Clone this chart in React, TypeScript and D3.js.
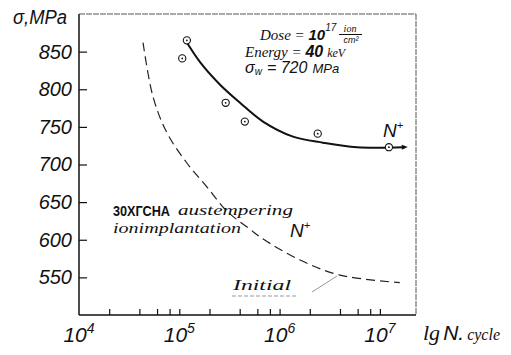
import React, { useRef, useEffect } from "react";
import * as d3 from "d3";

// fatigue points, N+ implanted
const pointCycles = [1.19e5, 1.07e5, 2.9e5, 4.5e5, 2.4e6, 1.23e7];
const pointStress = [865, 841, 782, 757, 741, 723];

// solid fit curve (N+)
const fitCycles = [1.14e5, 1.61e5, 2.55e5, 4.03e5, 6.83e5, 1.36e6, 2.71e6, 5.92e6, 1.7e7];
const fitStress = [866, 836, 806, 782, 757, 737, 729, 723, 723];

// dashed curve (initial)
const initCycles = [4.35e4, 5.47e4, 7.54e4, 1.19e5, 1.89e5, 2.99e5, 5.07e5, 6.67e5, 1.6e6, 4.0e6, 1.58e7];
const initStress = [862, 790, 742, 702, 670, 638, 614, 602, 573, 553, 543];

const yTicks = [550, 600, 650, 700, 750, 800, 850];
const decades = [4, 5, 6, 7];
const minorMult = [2, 4, 6, 8, 10];

const W = 511;
const H = 355;

const App = () => {
  const svgRef = useRef(null);

  useEffect(() => {
    const svg = d3.select(svgRef.current);
    svg.selectAll("*").remove();

    const left = 79, right = 416, top = 14, bottom = 315;
    const x = d3.scaleLog().domain([1e4, Math.pow(10, 4 + (right - left) / 100.3)]).range([left, right]);
    const y = d3.scaleLinear().domain([500, 900]).range([bottom, top]);

    const sans = "'Liberation Sans', Arial, sans-serif";
    const serif = "'Liberation Serif', 'DejaVu Serif', serif";

    // frame
    svg.append("line").attr("x1", left).attr("x2", left).attr("y1", top).attr("y2", bottom)
      .attr("stroke", "#111").attr("stroke-width", 1.5);
    svg.append("line").attr("x1", left).attr("x2", right).attr("y1", bottom).attr("y2", bottom)
      .attr("stroke", "#111").attr("stroke-width", 1.5);
    svg.append("line").attr("x1", left).attr("x2", right).attr("y1", top).attr("y2", top)
      .attr("stroke", "#555").attr("stroke-width", 1).attr("stroke-dasharray", "6 1");
    svg.append("line").attr("x1", right).attr("x2", right).attr("y1", top).attr("y2", bottom)
      .attr("stroke", "#555").attr("stroke-width", 1).attr("stroke-dasharray", "6 1");

    // y axis
    const yAxis = svg.append("g")
      .attr("transform", `translate(${left},0)`)
      .call(d3.axisLeft(y).tickValues(yTicks).tickSizeInner(-8).tickSizeOuter(0).tickPadding(7));
    yAxis.select(".domain").remove();
    yAxis.selectAll("line").attr("stroke", "#111").attr("stroke-width", 1.2);
    yAxis.selectAll("text")
      .attr("font-family", sans)
      .attr("font-style", "italic")
      .attr("font-size", 20)
      .attr("fill", "#111");

    // x axis minor ticks
    const xTickVals = [];
    decades.slice(0, 3).forEach(d => minorMult.forEach(m => xTickVals.push(m * Math.pow(10, d))));
    const xAxis = svg.append("g")
      .attr("transform", `translate(0,${bottom})`)
      .call(d3.axisBottom(x).tickValues(xTickVals).tickSize(-6).tickFormat(""));
    xAxis.select(".domain").remove();
    xAxis.selectAll("line").attr("stroke", "#111").attr("stroke-width", 1.2);

    // decade labels
    decades.forEach(d => {
      const t = svg.append("text")
        .attr("x", x(Math.pow(10, d)))
        .attr("y", 342)
        .attr("text-anchor", "middle")
        .attr("font-family", sans)
        .attr("font-style", "italic")
        .attr("font-size", 21)
        .attr("fill", "#111");
      t.append("tspan").text("10");
      t.append("tspan").attr("dy", -9).attr("font-size", 14).text(String(d));
    });

    // axis titles
    svg.append("text").attr("x", 13).attr("y", 24)
      .attr("font-family", sans).attr("font-style", "italic").attr("font-size", 20).attr("fill", "#111")
      .attr("textLength", 54).attr("lengthAdjust", "spacingAndGlyphs")
      .text("σ,MPa");
    const xt = svg.append("text").attr("x", 423).attr("y", 340)
      .attr("font-family", serif).attr("font-style", "italic").attr("fill", "#111");
    xt.append("tspan").attr("font-size", 22).text("lg");
    xt.append("tspan").attr("dx", 3).attr("font-family", sans).attr("font-size", 21).text("N.");
    xt.append("tspan").attr("dx", 3).attr("font-size", 16).text("cycle");

    // curves
    const fitData = fitCycles.map((c, i) => [c, fitStress[i]]);
    const initData = initCycles.map((c, i) => [c, initStress[i]]);
    const line = d3.line().x(d => x(d[0])).y(d => y(d[1])).curve(d3.curveCatmullRom.alpha(0.5));

    svg.append("defs").append("marker")
      .attr("id", "arr").attr("viewBox", "0 0 10 10").attr("refX", 2).attr("refY", 5)
      .attr("markerWidth", 8).attr("markerHeight", 6).attr("orient", "auto")
      .attr("markerUnits", "userSpaceOnUse")
      .append("path").attr("d", "M0,1 L10,5 L0,9 Z").attr("fill", "#111");

    svg.append("path").datum(fitData).attr("d", line)
      .attr("fill", "none").attr("stroke", "#111").attr("stroke-width", 2)
      .attr("marker-end", "url(#arr)");

    svg.append("path").datum(initData).attr("d", line)
      .attr("fill", "none").attr("stroke", "#222").attr("stroke-width", 1.2)
      .attr("stroke-dasharray", "9 5");

    // points
    const pts = svg.append("g").selectAll("g")
      .data(pointCycles.map((c, i) => [c, pointStress[i]]))
      .enter().append("g")
      .attr("transform", d => `translate(${x(d[0])},${y(d[1])})`);
    pts.append("circle").attr("r", 3.6).attr("fill", "#fff").attr("stroke", "#111").attr("stroke-width", 1.1);
    pts.append("circle").attr("r", 0.9).attr("fill", "#111");

    // annotations
    const d1 = svg.append("text").attr("x", 260).attr("y", 40).attr("font-size", 15)
      .attr("font-style", "italic").attr("fill", "#111");
    d1.append("tspan").attr("font-family", serif).text("Dose = ");
    d1.append("tspan").attr("font-family", sans).attr("font-weight", "bold").text("10");
    d1.append("tspan").attr("font-family", sans).attr("font-size", 10).attr("dy", -9).text("17");
    svg.append("text").attr("x", 350).attr("y", 32).attr("text-anchor", "middle")
      .attr("font-family", serif).attr("font-style", "italic").attr("font-size", 10).attr("fill", "#111").text("ion");
    svg.append("line").attr("x1", 339).attr("x2", 362).attr("y1", 34.5).attr("y2", 34.5)
      .attr("stroke", "#111").attr("stroke-width", 1);
    svg.append("text").attr("x", 351).attr("y", 43).attr("text-anchor", "middle")
      .attr("font-family", sans).attr("font-style", "italic").attr("font-size", 9).attr("fill", "#111").text("cm²");

    const d2 = svg.append("text").attr("x", 245).attr("y", 57).attr("font-size", 15)
      .attr("font-style", "italic").attr("fill", "#111");
    d2.append("tspan").attr("font-family", serif).text("Energy = ");
    d2.append("tspan").attr("font-family", sans).attr("font-weight", "bold").attr("font-size", 16).text("40");
    d2.append("tspan").attr("font-family", serif).attr("font-size", 12).attr("dx", 4).text("keV");

    const d3t = svg.append("text").attr("x", 245).attr("y", 73).attr("font-size", 16)
      .attr("font-style", "italic").attr("fill", "#111").attr("font-family", sans);
    d3t.append("tspan").text("σ");
    d3t.append("tspan").attr("font-size", 10).attr("dy", 2).text("w");
    d3t.append("tspan").attr("dy", -2).attr("dx", 5).text("=  720");
    d3t.append("tspan").attr("dx", 5).attr("font-size", 13).text("MPa");

    const nPlus = (px, py) => {
      const t = svg.append("text").attr("x", px).attr("y", py)
        .attr("font-family", sans).attr("font-style", "italic").attr("font-size", 19).attr("fill", "#111");
      t.append("tspan").text("N");
      t.append("tspan").attr("font-size", 11).attr("dy", -8).text("+");
    };
    nPlus(383, 137);
    nPlus(290, 237);

    svg.append("text").attr("x", 113).attr("y", 216)
      .attr("font-family", sans).attr("font-weight", "bold").attr("font-size", 15).attr("fill", "#111")
      .attr("textLength", 57).attr("lengthAdjust", "spacingAndGlyphs").text("30ХГСНА");
    svg.append("text").attr("x", 178).attr("y", 215)
      .attr("font-family", serif).attr("font-style", "italic").attr("font-size", 15).attr("fill", "#111")
      .attr("textLength", 115).attr("lengthAdjust", "spacingAndGlyphs").text("austempering");
    svg.append("text").attr("x", 113).attr("y", 233)
      .attr("font-family", serif).attr("font-style", "italic").attr("font-size", 14).attr("fill", "#111")
      .attr("textLength", 128).attr("lengthAdjust", "spacingAndGlyphs").text("ionimplantation");

    svg.append("text").attr("x", 233).attr("y", 290)
      .attr("font-family", serif).attr("font-style", "italic").attr("font-size", 15).attr("fill", "#111")
      .attr("textLength", 58).attr("lengthAdjust", "spacingAndGlyphs").text("Initial");
    svg.append("line").attr("x1", 232).attr("x2", 298).attr("y1", 296).attr("y2", 296)
      .attr("stroke", "#999").attr("stroke-width", 1).attr("stroke-dasharray", "4 2");
    svg.append("line").attr("x1", 337).attr("x2", 312).attr("y1", 276).attr("y2", 292)
      .attr("stroke", "#999").attr("stroke-width", 1);
  }, []);

  return (
    <svg ref={svgRef} width={W} height={H}
      style={{ position: "absolute", left: 0, top: 0, background: "#fff" }}></svg>
  );
};

export default App;
